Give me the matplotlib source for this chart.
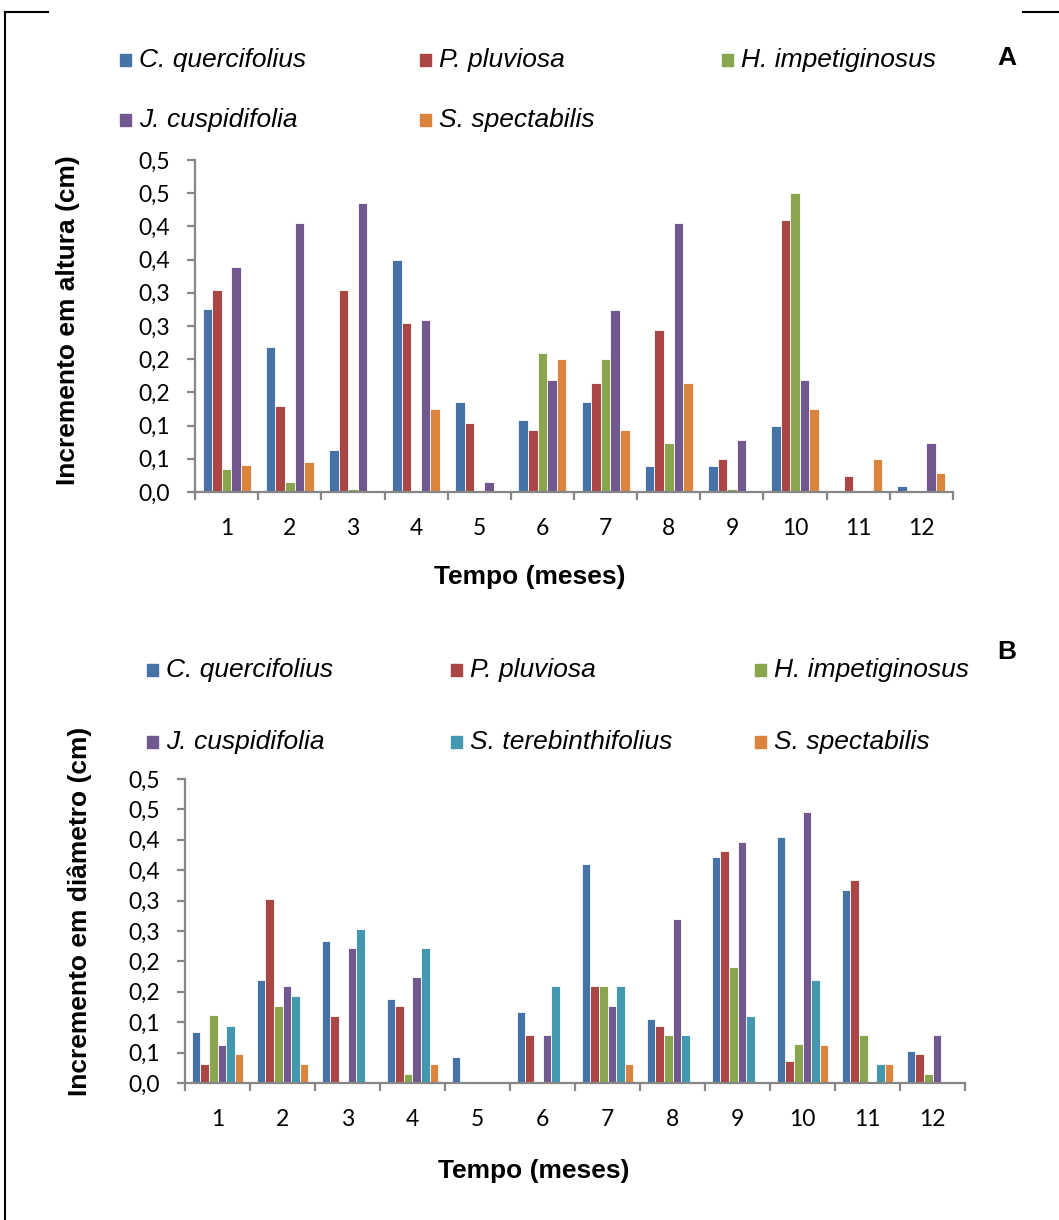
import numpy as np
import matplotlib
matplotlib.use("Agg")
import matplotlib.pyplot as plt
from matplotlib.lines import Line2D
from matplotlib.patches import Rectangle

# Data (months 1-12)
months = list(range(1, 13))

species_a = ['C. quercifolius', 'P. pluviosa', 'H. impetiginosus',
             'J. cuspidifolia', 'S. spectabilis']
altura_cq = [0.276, 0.219, 0.063, 0.350, 0.136, 0.109, 0.136, 0.039, 0.039, 0.099, 0.000, 0.009]
altura_pp = [0.304, 0.129, 0.304, 0.254, 0.104, 0.094, 0.164, 0.244, 0.049, 0.410, 0.024, 0.000]
altura_hi = [0.035, 0.015, 0.004, 0.000, 0.000, 0.210, 0.200, 0.074, 0.004, 0.450, 0.000, 0.000]
altura_jc = [0.339, 0.405, 0.435, 0.259, 0.015, 0.169, 0.274, 0.405, 0.079, 0.169, 0.000, 0.074]
altura_ss = [0.040, 0.045, 0.000, 0.125, 0.000, 0.200, 0.094, 0.164, 0.000, 0.125, 0.049, 0.029]

species_b = ['C. quercifolius', 'P. pluviosa', 'H. impetiginosus',
             'J. cuspidifolia', 'S. terebinthifolius', 'S. spectabilis']
diam_cq = [0.084, 0.170, 0.234, 0.138, 0.042, 0.117, 0.361, 0.106, 0.372, 0.404, 0.318, 0.053]
diam_pp = [0.031, 0.302, 0.111, 0.127, 0.000, 0.079, 0.159, 0.094, 0.382, 0.036, 0.334, 0.047]
diam_hi = [0.112, 0.127, 0.000, 0.015, 0.000, 0.000, 0.159, 0.079, 0.191, 0.064, 0.079, 0.015]
diam_jc = [0.062, 0.159, 0.222, 0.175, 0.000, 0.079, 0.127, 0.270, 0.397, 0.445, 0.000, 0.079]
diam_st = [0.094, 0.143, 0.254, 0.222, 0.000, 0.159, 0.159, 0.079, 0.111, 0.170, 0.031, 0.000]
diam_ss = [0.047, 0.031, 0.000, 0.031, 0.000, 0.000, 0.031, 0.000, 0.000, 0.062, 0.031, 0.000]

yticks = [0.0, 0.05, 0.10, 0.15, 0.20, 0.25, 0.30, 0.35, 0.40, 0.45, 0.50]
ytick_labels = ['0,0', '0,1', '0,1', '0,2', '0,2', '0,3', '0,3', '0,4', '0,4', '0,5', '0,5']

col_a = ['#4572A7', '#AA4643', '#89A54E', '#71588F', '#DB843D']
col_b = ['#4572A7', '#AA4643', '#89A54E', '#71588F', '#4198AF', '#DB843D']

W, H = 1059, 1220
fig = plt.figure(figsize=(W / 100, H / 100), dpi=100)
fig.patch.set_facecolor('white')

TICKFONT = 'Lato'
LABFONT = 'Liberation Sans'
AXCOL = '#868686'


def px_axes(left, top, right, bottom):
    return fig.add_axes([left / W, 1 - bottom / H, (right - left) / W, (bottom - top) / H])


def style_axes(ax):
    ax.set_xlim(0.5, 12.5)
    ax.set_ylim(0, 0.5)
    for s in ['top', 'right']:
        ax.spines[s].set_visible(False)
    for s in ['left', 'bottom']:
        ax.spines[s].set_color(AXCOL)
        ax.spines[s].set_linewidth(1.6)
    ax.set_yticks(yticks)
    ax.set_yticklabels(ytick_labels, fontfamily=TICKFONT, fontsize=16.5)
    ax.set_xticks(months)
    ax.set_xticklabels([str(m) for m in months], fontfamily=TICKFONT, fontsize=16.5)
    ax.set_xticks(np.arange(0.5, 13, 1), minor=True)
    ax.tick_params(axis='y', direction='out', length=6, width=1.6, color=AXCOL, pad=12)
    ax.tick_params(axis='x', which='major', length=0, pad=19)
    ax.tick_params(axis='x', which='minor', direction='out', length=6, width=1.6, color=AXCOL)


def bars(ax, series, colors, width):
    n = len(series)
    x = np.array(months, dtype=float)
    for i, (vals, c) in enumerate(zip(series, colors)):
        ax.bar(x + (i - (n - 1) / 2) * width, vals, width, color=c,
               edgecolor='white', linewidth=0.6, zorder=2)


def legend_item(x, y, label, color):
    fig.patches.append(Rectangle((x / W, 1 - (y + 6) / H), 11 / W, 12 / H,
                                 transform=fig.transFigure, color=color))
    fig.text((x + 19) / W, 1 - y / H, label, fontfamily=LABFONT, style='italic',
             fontsize=19, va='center', ha='left')


# Panel A
axA = px_axes(195, 160, 953, 492)
bars(axA, [altura_cq, altura_pp, altura_hi, altura_jc, altura_ss], col_a, 0.152)
style_axes(axA)

legA_pos = [(120, 60), (420, 60), (722, 60), (120, 120), (420, 120)]
for (x, y), lab, c in zip(legA_pos, species_a, col_a):
    legend_item(x, y, lab, c)
fig.text(1007 / W, 1 - 58 / H, 'A', fontfamily=LABFONT, fontweight='bold',
         fontsize=19, ha='center', va='center')
fig.text(68 / W, 1 - 320 / H, 'Incremento em altura (cm)', fontfamily=LABFONT,
         fontweight='bold', fontsize=19, rotation=90, ha='center', va='center')
fig.text(530 / W, 1 - 577 / H, 'Tempo (meses)', fontfamily=LABFONT,
         fontweight='bold', fontsize=19, ha='center', va='center')

# Panel B
axB = px_axes(185, 779, 965, 1083)
bars(axB, [diam_cq, diam_pp, diam_hi, diam_jc, diam_st, diam_ss], col_b, 0.133)
style_axes(axB)

legB_pos = [(147, 670), (451, 670), (755, 670), (147, 742), (451, 742), (755, 742)]
for (x, y), lab, c in zip(legB_pos, species_b, col_b):
    legend_item(x, y, lab, c)
fig.text(1007 / W, 1 - 652 / H, 'B', fontfamily=LABFONT, fontweight='bold',
         fontsize=19, ha='center', va='center')
fig.text(80 / W, 1 - 911 / H, 'Incremento em diâmetro (cm)', fontfamily=LABFONT,
         fontweight='bold', fontsize=19, rotation=90, ha='center', va='center')
fig.text(534 / W, 1 - 1171 / H, 'Tempo (meses)', fontfamily=LABFONT,
         fontweight='bold', fontsize=19, ha='center', va='center')

# frame pieces around the figure
for xs, ys in [([5, 5], [12, 1220]), ([5, 48], [12, 12]), ([1023, 1059], [12, 12])]:
    fig.add_artist(Line2D([v / W for v in xs], [1 - v / H for v in ys],
                          color='black', linewidth=1.5, transform=fig.transFigure))

fig.savefig('out.png', dpi=100)
